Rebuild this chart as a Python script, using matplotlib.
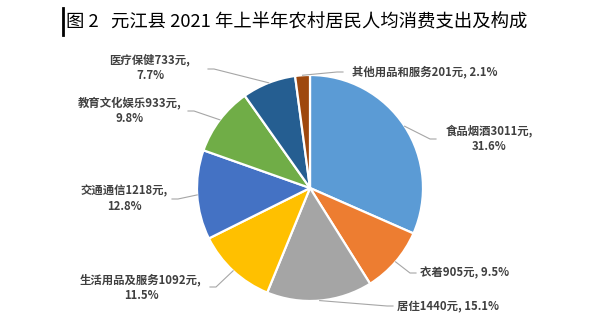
import numpy as np
import matplotlib
matplotlib.use('Agg')
import matplotlib.pyplot as plt

plt.rcParams['font.family'] = ['Noto Sans CJK SC', 'DejaVu Sans']

names = ['食品烟酒', '衣着', '居住', '生活用品及服务', '交通通信', '教育文化娱乐', '医疗保健', '其他用品和服务']
values = [3011, 905, 1440, 1092, 1218, 933, 733, 201]
colors = ['#5B9BD5', '#ED7D31', '#A5A5A5', '#FFC000', '#4472C4', '#70AD47', '#255E91', '#9E480E']

W, H = 591, 333
cx, cy, r = 310, 188, 113

# label anchor (pixel coords), alignment, elbow of the leader line, one/two lines
label_pos = [
    ((489, 139), 'center', (430, 139), True),
    ((420, 273), 'left', (410, 273), False),
    ((397, 307), 'left', (387, 306), False),
    ((141, 288), 'center', (216, 287), True),
    ((124, 199), 'center', (178, 199), True),
    ((130, 111), 'center', (194, 111), True),
    ((150, 68), 'center', (214, 69), True),
    ((352, 72), 'left', (337, 72), False),
]

fig = plt.figure(figsize=(W / 100, H / 100), dpi=100)
ax = fig.add_axes([0, 0, 1, 1])

wedges, _ = ax.pie(values, colors=colors, startangle=90, counterclock=False,
                   center=(cx, H - cy), radius=r,
                   wedgeprops=dict(edgecolor='white', linewidth=1.6))
ax.set_xlim(0, W)
ax.set_ylim(0, H)
ax.axis('off')

total = sum(values)
for w, name, v, (pos, ha, elbow, two) in zip(wedges, names, values, label_pos):
    mid = np.deg2rad((w.theta1 + w.theta2) / 2)
    ex, ey = cx + r * np.cos(mid), (H - cy) + r * np.sin(mid)
    pct = v / total * 100
    d = 6 if elbow[0] > cx else -6
    ax.plot([ex, elbow[0], elbow[0] + d], [ey, H - elbow[1], H - elbow[1]],
            color='#A6A6A6', lw=0.8, zorder=1)
    if two:
        txt = f'{name}{v}元,\n{pct:.1f}%'
    else:
        txt = f'{name}{v}元, {pct:.1f}%'
    ax.text(pos[0], H - pos[1], txt, ha=ha, va='center', fontsize=8.2,
            fontweight='bold', color='#404040', linespacing=1.25)

ax.text(66, H - 22, '图 2   元江县 2021 年上半年农村居民人均消费支出及构成',
        ha='left', va='center', fontsize=13.2, color='black')
ax.plot([63, 63], [H - 8, H - 35], color='black', lw=2)

fig.savefig('out.png', dpi=100)
